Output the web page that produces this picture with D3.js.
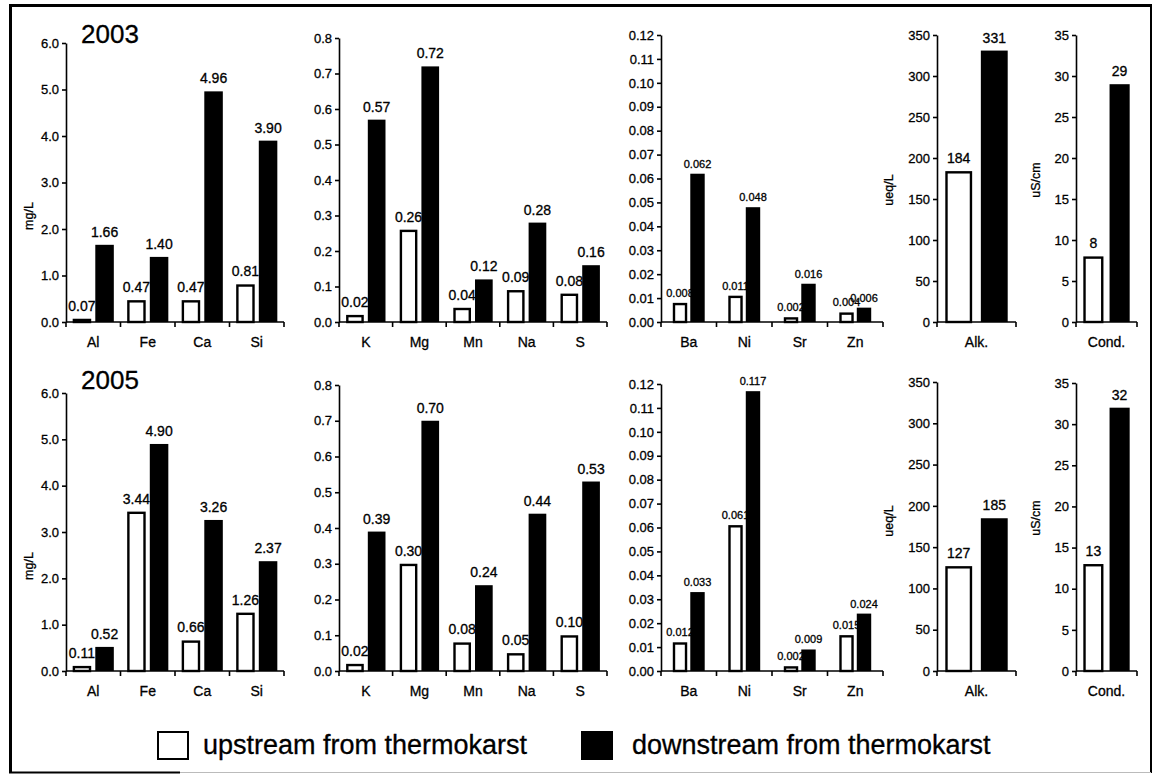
<!DOCTYPE html>
<html>
<head>
<meta charset="utf-8">
<script src="https://cdn.jsdelivr.net/npm/d3@7"></script>
<style>
  body { margin: 0; background: #fff; }
  svg { display: block; font-family: "Liberation Sans", Arial, Helvetica, sans-serif; }
  svg text { stroke: #000; stroke-width: 0.3px; paint-order: stroke; }
</style>
</head>
<body>
<svg id="chart" width="1155" height="774"></svg>
<script>
// ---- data -------------------------------------------------------------
const years = ["2003", "2005"];
const seriesNames = ["upstream from thermokarst", "downstream from thermokarst"];

// major cations (mg/L)
const majorCats = ["Al", "Fe", "Ca", "Si"];
const majorUp2003 = [0.07, 0.47, 0.47, 0.81];
const majorDown2003 = [1.66, 1.40, 4.96, 3.90];
const majorUp2005 = [0.11, 3.44, 0.66, 1.26];
const majorDown2005 = [0.52, 4.90, 3.26, 2.37];
const majorTicks = [0, 1, 2, 3, 4, 5, 6];

// minor elements (mg/L)
const minorCats = ["K", "Mg", "Mn", "Na", "S"];
const minorUp2003 = [0.02, 0.26, 0.04, 0.09, 0.08];
const minorDown2003 = [0.57, 0.72, 0.12, 0.28, 0.16];
const minorUp2005 = [0.02, 0.30, 0.08, 0.05, 0.10];
const minorDown2005 = [0.39, 0.70, 0.24, 0.44, 0.53];
const minorTicks = [0, 0.1, 0.2, 0.3, 0.4, 0.5, 0.6, 0.7, 0.8];

// trace metals (mg/L)
const traceCats = ["Ba", "Ni", "Sr", "Zn"];
const traceUp2003 = [0.008, 0.011, 0.002, 0.004];
const traceDown2003 = [0.062, 0.048, 0.016, 0.006];
const traceUp2005 = [0.012, 0.061, 0.002, 0.015];
const traceDown2005 = [0.033, 0.117, 0.009, 0.024];
const traceTicks = [0, 0.01, 0.02, 0.03, 0.04, 0.05, 0.06, 0.07, 0.08, 0.09, 0.10, 0.11, 0.12];

// alkalinity (ueq/L)
const alkCats = ["Alk."];
const alkUp2003 = [184];
const alkDown2003 = [331];
const alkUp2005 = [127];
const alkDown2005 = [185];
const alkTicks = [0, 50, 100, 150, 200, 250, 300, 350];

// conductivity (uS/cm)
const condCats = ["Cond."];
const condUp2003 = [8];
const condDown2003 = [29];
const condUp2005 = [13];
const condDown2005 = [32];
const condTicks = [0, 5, 10, 15, 20, 25, 30, 35];

// ---- panel definitions -------------------------------------------------
const panels = [
  { cats: majorCats, up: [majorUp2003, majorUp2005], down: [majorDown2003, majorDown2005],
    ticks: majorTicks, tickFmt: ".1f", valFmt: ".2f", unit: "mg/L" },
  { cats: minorCats, up: [minorUp2003, minorUp2005], down: [minorDown2003, minorDown2005],
    ticks: minorTicks, tickFmt: ".1f", valFmt: ".2f", unit: null },
  { cats: traceCats, up: [traceUp2003, traceUp2005], down: [traceDown2003, traceDown2005],
    ticks: traceTicks, tickFmt: ".2f", valFmt: ".3f", unit: null },
  { cats: alkCats, up: [alkUp2003, alkUp2005], down: [alkDown2003, alkDown2005],
    ticks: alkTicks, tickFmt: "d", valFmt: "d", unit: "ueq/L" },
  { cats: condCats, up: [condUp2003, condUp2005], down: [condDown2003, condDown2005],
    ticks: condTicks, tickFmt: "d", valFmt: "d", unit: "uS/cm" }
];

// geometry of each panel (pixels)
const geom = [
  { x0: 66,   x1: 284,  barFrac: 0.34, gapFrac: 0.075, valSize: 14,   valGap: 8, unitX: 33,   unitY: [216, 566] },
  { x0: 339,  x1: 607,  barFrac: 0.33, gapFrac: 0.075, valSize: 14,   valGap: 8 },
  { x0: 661,  x1: 883,  barFrac: 0.26, gapFrac: 0.055, valSize: 11,   valGap: 6 },
  { x0: 937,  x1: 1016, barFrac: 0.34, gapFrac: 0.11,  valSize: 14,   valGap: 8, unitX: 893,  unitY: [190, 521] },
  { x0: 1076, x1: 1137, barFrac: 0.33, gapFrac: 0.10,  valSize: 14,   valGap: 8, unitX: 1040, unitY: [180, 518] }
];
const rowBottom = [322, 671];
const panelTop = [[43, 38, 35, 35, 35], [393, 385, 384, 382, 383]];
const titlePos = [{ x: 81, y: 43 }, { x: 81, y: 389 }];

const svg = d3.select("#chart");

// ---- frame --------------------------------------------------------------
const frame = svg.append("g");
frame.append("line").attr("x1", 10.5).attr("y1", 4).attr("x2", 10.5).attr("y2", 773)
  .attr("stroke", "#000").attr("stroke-width", 3);
frame.append("line").attr("x1", 9).attr("y1", 5.5).attr("x2", 1152).attr("y2", 5.5)
  .attr("stroke", "#000").attr("stroke-width", 3);
frame.append("line").attr("x1", 1151).attr("y1", 4).attr("x2", 1151).attr("y2", 773)
  .attr("stroke", "#000").attr("stroke-width", 2);
frame.append("line").attr("x1", 9).attr("y1", 772.5).attr("x2", 180).attr("y2", 772.5)
  .attr("stroke", "#000").attr("stroke-width", 2);
frame.append("line").attr("x1", 180).attr("y1", 772.5).attr("x2", 1151).attr("y2", 772.5)
  .attr("stroke", "#bbb").attr("stroke-width", 1);

// ---- panels -------------------------------------------------------------
years.forEach((year, r) => {
  svg.append("text")
    .attr("x", titlePos[r].x).attr("y", titlePos[r].y)
    .attr("font-size", 26).attr("fill", "#000")
    .text(year);

  panels.forEach((p, i) => {
    const g = geom[i];
    const top = panelTop[r][i];
    const bottom = rowBottom[r];
    const yMax = p.ticks[p.ticks.length - 1];

    const x = d3.scaleBand().domain(p.cats).range([g.x0, g.x1]).paddingInner(0).paddingOuter(0);
    const y = d3.scaleLinear().domain([0, yMax]).range([bottom, top]);

    const pg = svg.append("g");

    // y axis
    const yAxis = d3.axisLeft(y)
      .tickValues(p.ticks)
      .tickFormat(d3.format(p.tickFmt))
      .tickSize(4).tickSizeOuter(0).tickPadding(3);
    const ya = pg.append("g").attr("transform", `translate(${g.x0},0)`).call(yAxis);
    ya.selectAll("path, line").attr("stroke", "#000").attr("stroke-width", 1.6);
    ya.selectAll("text").attr("font-size", 13).attr("font-family", "Liberation Sans, Arial, sans-serif").attr("fill", "#000");

    // x axis: category labels
    const xAxis = d3.axisBottom(x).tickSize(0).tickPadding(15);
    const xa = pg.append("g").attr("transform", `translate(0,${bottom})`).call(xAxis);
    xa.select(".domain").remove();
    xa.selectAll("text").attr("font-size", 14).attr("font-family", "Liberation Sans, Arial, sans-serif").attr("fill", "#000");

    // x axis line with boundary ticks
    pg.append("line").attr("x1", g.x0).attr("x2", g.x1).attr("y1", bottom).attr("y2", bottom)
      .attr("stroke", "#000").attr("stroke-width", 1.6);
    const bounds = p.cats.map(c => x(c)).concat([g.x1]);
    pg.selectAll(".btick").data(bounds).join("line")
      .attr("x1", d => d).attr("x2", d => d)
      .attr("y1", bottom).attr("y2", bottom + 5)
      .attr("stroke", "#000").attr("stroke-width", 1.6);

    // bar geometry within each band
    const bw = x.bandwidth();
    const barW = bw * g.barFrac;
    const gap = bw * g.gapFrac;
    const off = (bw - 2 * barW - gap) / 2;
    const fmt = d3.format(p.valFmt);

    const upData = p.cats.map((c, k) => ({ c, v: p.up[r][k] }));
    const downData = p.cats.map((c, k) => ({ c, v: p.down[r][k] }));

    // upstream bars (open)
    pg.selectAll(".up").data(upData).join("rect")
      .attr("x", d => x(d.c) + off + 1.2)
      .attr("width", barW - 2.4)
      .attr("y", d => y(d.v) + 1.2)
      .attr("height", d => Math.max(0, bottom - y(d.v) - 1.2))
      .attr("fill", "#fff").attr("stroke", "#000").attr("stroke-width", 2.4);

    pg.selectAll(".upLab").data(upData).join("text")
      .attr("x", d => x(d.c) + off + barW / 2)
      .attr("y", d => y(d.v) - g.valGap)
      .attr("text-anchor", "middle")
      .attr("font-size", g.valSize).attr("fill", "#000")
      .text(d => fmt(d.v));

    // downstream bars (solid)
    pg.selectAll(".down").data(downData).join("rect")
      .attr("x", d => x(d.c) + off + barW + gap)
      .attr("width", barW)
      .attr("y", d => y(d.v))
      .attr("height", d => bottom - y(d.v))
      .attr("fill", "#000");

    pg.selectAll(".downLab").data(downData).join("text")
      .attr("x", d => x(d.c) + off + barW + gap + barW / 2)
      .attr("y", d => y(d.v) - g.valGap)
      .attr("text-anchor", "middle")
      .attr("font-size", g.valSize).attr("fill", "#000")
      .text(d => fmt(d.v));

    // unit label
    if (p.unit) {
      pg.append("text")
        .attr("transform", `translate(${g.unitX},${g.unitY[r]}) rotate(-90)`)
        .attr("text-anchor", "middle")
        .attr("font-size", 12.5).attr("fill", "#000")
        .text(p.unit);
    }
  });
});

// ---- legend -------------------------------------------------------------
const legendItems = [
  { name: seriesNames[0], fill: "#fff", bx: 158, tx: 203 },
  { name: seriesNames[1], fill: "#000", bx: 582, tx: 632 }
];
const lg = svg.append("g");
lg.selectAll("rect").data(legendItems).join("rect")
  .attr("x", d => d.bx).attr("y", 732)
  .attr("width", 30).attr("height", 27)
  .attr("fill", d => d.fill).attr("stroke", "#000").attr("stroke-width", 2);
lg.selectAll("text").data(legendItems).join("text")
  .attr("x", d => d.tx).attr("y", 754)
  .attr("font-size", 27).attr("fill", "#000")
  .text(d => d.name);
</script>
</body>
</html>
